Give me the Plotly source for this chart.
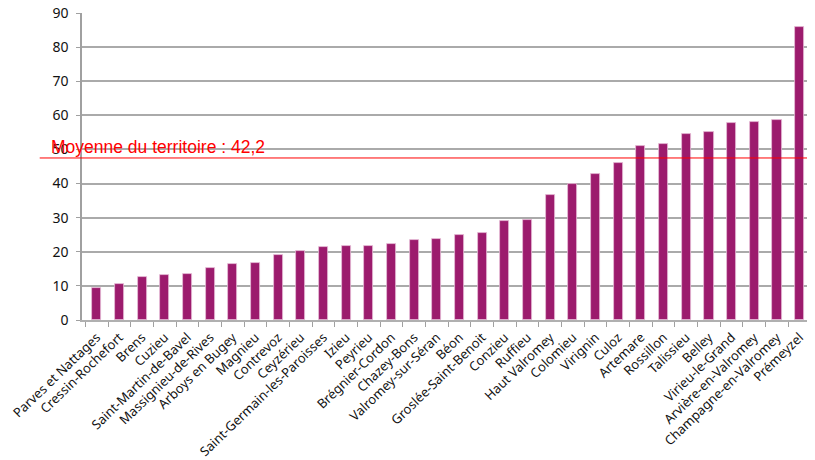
import plotly.graph_objects as go

communes = [
    "Parves et Nattages", "Cressin-Rochefort", "Brens", "Cuzieu",
    "Saint-Martin-de-Bavel", "Massignieu-de-Rives", "Arboys en Bugey", "Magnieu",
    "Contrevoz", "Ceyzérieu", "Saint-Germain-les-Paroisses", "Izieu",
    "Peyrieu", "Brégnier-Cordon", "Chazey-Bons", "Valromey-sur-Séran",
    "Béon", "Groslée-Saint-Benoit", "Conzieu", "Ruffieu",
    "Haut Valromey", "Colomieu", "Virignin", "Culoz",
    "Artemare", "Rossillon", "Talissieu", "Belley",
    "Virieu-le-Grand", "Arvière-en-Valromey", "Champagne-en-Valromey", "Prémeyzel",
]
valeurs = [
    9.3, 10.6, 12.7, 13.1, 13.6, 15.1, 16.3, 16.8,
    19.1, 20.3, 21.5, 21.6, 21.6, 22.4, 23.5, 23.7,
    24.8, 25.5, 28.9, 29.2, 36.6, 39.8, 42.7, 46.1,
    51.1, 51.5, 54.5, 55.0, 57.9, 58.1, 58.5, 85.8,
]
moyenne_texte = "Moyenne du territoire : 42,2"
moyenne_y = 47.5  # hauteur de la ligne telle que tracée sur l'original

fig = go.Figure()
fig.add_trace(go.Bar(
    x=communes, y=valeurs, width=0.4,
    marker=dict(color="#9c1b6d", line=dict(color="#e6bcd6", width=0.8)),
))

fig.add_shape(type="line", xref="paper", yref="y", x0=-0.058, x1=1,
              y0=moyenne_y, y1=moyenne_y, line=dict(color="#ff0000", width=1))
fig.add_annotation(xref="paper", yref="y", x=-0.045, y=moyenne_y, xanchor="left", yanchor="bottom",
                   text=moyenne_texte, showarrow=False, yshift=-1,
                   font=dict(family="Liberation Sans", size=17.5, color="#ff0000"))

# la page ajoute une marge de 8 px autour du graphique
fig.update_layout(
    width=807, height=452, margin=dict(l=74, r=4, t=5, b=140),
    plot_bgcolor="white", paper_bgcolor="white", showlegend=False, bargap=0,
)
fig.update_xaxes(
    range=[-0.65, 31.5], tickangle=-44, tickfont=dict(family="Noto Sans", size=13, color="#111"),
    showline=True, linecolor="#b0b0b0", linewidth=1.5, ticks="outside", tickson="boundaries",
    ticklen=5, tickcolor="#a0a0a0", showgrid=False, automargin=False, ticklabelstandoff=3,
)
fig.update_yaxes(
    range=[0, 90], dtick=10, tickfont=dict(family="Noto Sans", size=14, color="#111"),
    showline=True, linecolor="#a0a0a0", linewidth=1.5, ticks="outside", ticklen=4, tickcolor="#a0a0a0",
    showgrid=True, gridcolor="#aaaaaa", gridwidth=1.5, zeroline=False, automargin=False,
    ticklabelstandoff=5, ticklabeloverflow="allow",
)

fig.write_html("out.html")
